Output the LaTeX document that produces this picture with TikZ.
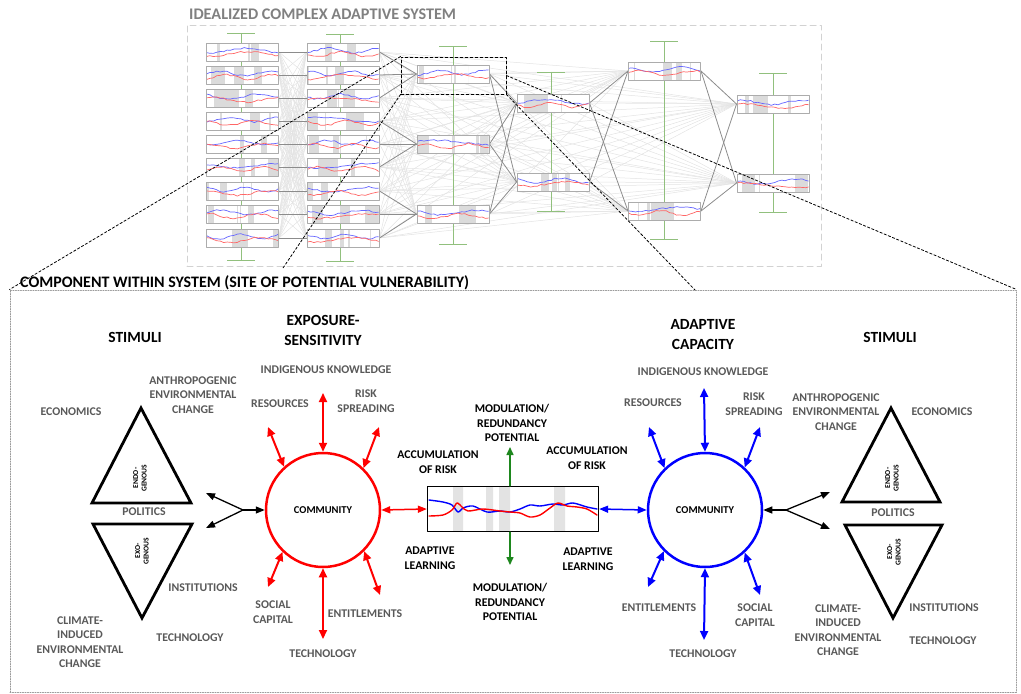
\documentclass[tikz,border=0pt]{standalone}
\usepackage{fontspec}
\setmainfont{Carlito}
\usetikzlibrary{arrows.meta,backgrounds}

\definecolor{lblgray}{RGB}{89,89,89}
\definecolor{titlegray}{RGB}{128,128,128}
\definecolor{whisk}{RGB}{145,192,125}
\definecolor{grn}{RGB}{30,135,30}

\tikzset{
  lbl/.style={text=lblgray,font=\bfseries\fontsize{11.8}{14.5}\selectfont,align=center,inner sep=0pt},
  blk/.style={lbl,text=black},
  head/.style={font=\bfseries\fontsize{15.5}{20}\selectfont,align=center,inner sep=0pt},
  tinyrot/.style={font=\bfseries\fontsize{7.5}{8.5}\selectfont,align=center,inner sep=0pt,rotate=90},
  sysbox/.style={draw=gray!65,line width=1pt,minimum width=72pt,minimum height=18pt,inner sep=0pt},
  comm/.style={circle,line width=2.5pt,minimum size=114pt,inner sep=0pt,font=\bfseries\fontsize{10.5}{12}\selectfont},
  tri/.style={draw,line width=2.8pt,line join=miter},
  spoke/.style={{Triangle[length=9pt,width=8pt]}-{Triangle[length=9pt,width=8pt]},line width=2pt},
  link/.style={{Triangle[length=9pt,width=7pt]}-{Triangle[length=9pt,width=7pt]},line width=1.5pt},
  blkarr/.style={-{Triangle[length=9pt,width=7pt]},line width=1.3pt},
  grnarr/.style={-{Triangle[length=8pt,width=7pt]},line width=1.5pt,grn},
  faint/.style={gray!22,line width=0.5pt},
  darkl/.style={gray!90,line width=0.8pt},
  zoomln/.style={black,line width=0.8pt,dash pattern=on 2.5pt off 2pt}
}

% one small time-series panel of the system
\newcommand{\minitrace}[3]{%
  \fill[white] (#2-36,#3-9) rectangle (#2+36,#3+9);
  \begin{scope}
    \clip (#2-35.5,#3-8.5) rectangle (#2+35.5,#3+8.5);
    \foreach \k in {1,2,3,4}{
      \pgfmathsetmacro\bx{#2-38+70*rnd}
      \pgfmathsetmacro\bw{24*rnd*rnd}
      \fill[gray!28] (\bx,#3-9) rectangle (\bx+\bw,#3+9);
    }
    \pgfmathsetmacro\fa{3+6*rnd}
    \pgfmathsetmacro\pa{360*rnd}
    \pgfmathsetmacro\fb{3+6*rnd}
    \pgfmathsetmacro\pb{360*rnd}
    \draw[blue!60,line width=0.7pt] plot[smooth,domain=-36:36,samples=22]
      ({#2+\x},{#3-1.5+2.3*sin(\x*\fa+\pa)+0.8*rand});
    \draw[red!60,line width=0.7pt] plot[smooth,domain=-36:36,samples=22]
      ({#2+\x},{#3+2+2.3*sin(\x*\fb+\pb)+0.8*rand});
  \end{scope}
  \node[sysbox] (#1) at (#2,#3) {};
}

\begin{document}
\begin{tikzpicture}[line cap=round,line join=round,x=1pt,y=-1pt]
\useasboundingbox (0,0) rectangle (1021,694);
\pgfmathsetseed{11}

% ---- idealized system
\node[anchor=west,text=titlegray,font=\bfseries\fontsize{16.2}{18}\selectfont,inner sep=0pt] (systitle) at (189,14) {IDEALIZED COMPLEX ADAPTIVE SYSTEM};
\node[draw=gray!35,line width=1pt,dash pattern=on 6pt off 4pt,minimum width=634pt,minimum height=241pt] (sysframe) at (504,145.5) {};

\foreach \i/\yy in {1/52,2/75,3/98,4/121,5/144,6/167,7/191,8/214,9/238}{
  \minitrace{b1-\i}{242.5}{\yy}
  \minitrace{b2-\i}{343}{\yy}
}
\foreach \i/\yy in {1/74,2/144,3/214}{\minitrace{b3-\i}{453}{\yy}}
\foreach \i/\yy in {1/103,2/182}{\minitrace{b4-\i}{553}{\yy}}
\foreach \i/\yy in {1/71,2/211}{\minitrace{b5-\i}{664.5}{\yy}}
\foreach \i/\yy in {1/104,2/183}{\minitrace{b6-\i}{773}{\yy}}

\begin{scope}[on background layer]
  % faint links
  \foreach \i in {1,...,9}{
    \foreach \j in {1,...,9}{\draw[faint] (b1-\i.east) -- (b2-\j.west);}
    \foreach \j in {1,2,3}{\draw[faint] (b2-\i.east) -- (b3-\j.west);}
    \foreach \j in {1,2}{
      \draw[faint] (b2-\i.east) -- (b4-\j.west);
      \draw[faint] (b2-\i.east) -- (b5-\j.west);
      \draw[faint] (b2-\i.east) -- (b6-\j.west);
    }
  }
  \foreach \i in {1,2,3}{
    \foreach \j in {1,2}{
      \draw[faint] (b3-\i.east) -- (b5-\j.west);
      \draw[faint] (b3-\i.east) -- (b6-\j.west);
    }
  }
  \foreach \i in {1,2}{
    \foreach \j in {1,2}{\draw[faint] (b4-\i.east) -- (b6-\j.west);}
  }
  % whiskers
  \foreach \wx/\wt/\wb in {241/33/260,340/34/261,453/46/244,551/72/211,664/41/239,773/73/212}{
    \draw[whisk,line width=1pt] (\wx,\wt) -- (\wx,\wb) (\wx-14,\wt) -- (\wx+14,\wt) (\wx-14,\wb) -- (\wx+14,\wb);
  }
  % strong links
  \foreach \i in {1,...,9}{
    \pgfmathtruncatemacro\j{(\i+2)/3}
    \draw[darkl] (b1-\i.east) -- (b2-\i.west);
    \draw[darkl] (b2-\i.east) -- (b3-\j.west);
  }
  \foreach \i in {1,2,3}{
    \foreach \j in {1,2}{\draw[darkl] (b3-\i.east) -- (b4-\j.west);}
  }
  \foreach \i in {1,2}{
    \foreach \j in {1,2}{
      \draw[darkl] (b4-\i.east) -- (b5-\j.west);
      \draw[darkl] (b5-\i.east) -- (b6-\j.west);
    }
  }
\end{scope}

% ---- component frame and zoom lines
\node[anchor=west,font=\bfseries\fontsize{16}{18}\selectfont,inner sep=0pt] (comptitle) at (20,283) {COMPONENT WITHIN SYSTEM (SITE OF POTENTIAL VULNERABILITY)};
\node[draw=gray!80,line width=1pt,dash pattern=on 1pt off 1.5pt,minimum width=1006pt,minimum height=402pt] (compbox) at (513,491) {};
\node[draw,line width=0.9pt,dash pattern=on 3pt off 2pt,minimum width=105pt,minimum height=37pt] (zoomwin) at (453.5,75.5) {};
\coordinate (lend) at (283,268);
\coordinate (rend) at (695,290);
\draw[zoomln] (zoomwin.north west) -- (compbox.north west);
\draw[zoomln] (zoomwin.south west) -- (lend);
\draw[zoomln] (zoomwin.east) -- (compbox.north east);
\draw[zoomln] (zoomwin.south east) -- (rend);

% ---- left stimuli
\node[head] (stimL) at (135,337) {STIMULI};
\draw[tri] (141,408) -- (191,503) -- (92,503) -- cycle;
\draw[tri] (93,524) -- (192,524) -- (142,618) -- cycle;
\node[tinyrot] (endoL) at (140,478) {ENDO-\\GENOUS};
\node[tinyrot] (exoL) at (142,551) {EXO-\\GENOUS};
\node[lbl] (econL) at (71,412) {ECONOMICS};
\node[lbl] (anthL) at (193,395) {ANTHROPOGENIC\\ENVIRONMENTAL\\CHANGE};
\node[lbl] (polL) at (144,512) {POLITICS};
\node[lbl] (instL) at (203,588) {INSTITUTIONS};
\node[lbl] (techL) at (190,638) {TECHNOLOGY};
\node[lbl] (climL) at (80,642) {CLIMATE-\\INDUCED\\ENVIRONMENTAL\\CHANGE};

% ---- exposure-sensitivity
\node[comm,draw=red] (commL) at (323,510) {COMMUNITY};
\node[head] (expo) at (323,330) {EXPOSURE-\\SENSITIVITY};
\node[lbl] (indL) at (326,370) {INDIGENOUS KNOWLEDGE};
\node[lbl] (resL) at (280,404) {RESOURCES};
\node[lbl] (riskL) at (366,401) {RISK\\SPREADING};
\node[lbl] (socL) at (273,612) {SOCIAL\\CAPITAL};
\node[lbl] (entL) at (365,614) {ENTITLEMENTS};
\node[lbl] (techcL) at (323,654) {TECHNOLOGY};
\coordinate (sL1) at (323,393);
\coordinate (sL2) at (268,427);
\coordinate (sL3) at (379,427);
\coordinate (sL4) at (323,639);
\coordinate (sL5) at (268,587);
\coordinate (sL6) at (380,595);
\draw[spoke,red] (commL.90) -- (sL1);
\draw[spoke,red] (commL.132) -- (sL2);
\draw[spoke,red] (commL.46) -- (sL3);
\draw[spoke,red] (commL.270) -- (sL4);
\draw[spoke,red] (commL.226) -- (sL5);
\draw[spoke,red] (commL.315) -- (sL6);

\coordinate (jL) at (243,510);
\coordinate (aL1) at (206,493);
\coordinate (aL2) at (206,528);
\draw[blkarr] (jL) -- (commL.west);
\draw[blkarr] (jL) -- (aL1);
\draw[blkarr] (jL) -- (aL2);

% ---- component in the middle
\node[draw,line width=1.3pt,minimum width=171pt,minimum height=45pt,inner sep=0pt] (sysmid) at (513,509) {};
\fill[gray!22] (453,487.2) rectangle (463,530.8) (486,487.2) rectangle (493,530.8)
  (499,487.2) rectangle (510,530.8) (554,487.2) rectangle (565,530.8);
\draw[blue,line width=1.4pt] plot[smooth] coordinates {(429,500) (443,502) (452,505) (458,512) (463,508) (473,506) (487,512) (500,511) (510,512) (520,509) (530,505) (540,506) (553,504) (563,505) (573,503) (587,507) (597,509)};
\draw[red,line width=1.4pt] plot[smooth] coordinates {(429,516) (443,515) (452,510) (457,503) (462,507) (468,511) (483,509) (500,511) (510,512) (520,513) (530,517) (540,515) (550,508) (558,503) (567,506) (577,507) (587,509) (597,515)};
\draw[link,red] (commL.east) -- (sysmid.west);
\coordinate (gup) at (510,447);
\coordinate (gdn) at (510,565);
\draw[grnarr] (sysmid.north -| gup) -- (gup);
\draw[grnarr] (sysmid.south -| gdn) -- (gdn);
\node[blk] (modU) at (512,423) {MODULATION/\\REDUNDANCY\\POTENTIAL};
\node[blk] (modD) at (510,602) {MODULATION/\\REDUNDANCY\\POTENTIAL};
\node[blk] (accL) at (438,462) {ACCUMULATION\\OF RISK};
\node[blk] (accR) at (587,458) {ACCUMULATION\\OF RISK};
\node[blk] (learnL) at (430,558) {ADAPTIVE\\LEARNING};
\node[blk] (learnR) at (588,559) {ADAPTIVE\\LEARNING};

% ---- adaptive capacity
\node[comm,draw=blue] (commR) at (705,510) {COMMUNITY};
\draw[link,blue] (sysmid.east) -- (commR.west);
\node[head] (adapt) at (703,335) {ADAPTIVE\\CAPACITY};
\node[lbl] (indR) at (703,372) {INDIGENOUS KNOWLEDGE};
\node[lbl] (resR) at (653,403) {RESOURCES};
\node[lbl] (riskR) at (754,404) {RISK\\SPREADING};
\node[lbl] (entR) at (659,608) {ENTITLEMENTS};
\node[lbl] (socR) at (755,615) {SOCIAL\\CAPITAL};
\node[lbl] (techcR) at (703,654) {TECHNOLOGY};
\coordinate (sR1) at (704,388);
\coordinate (sR2) at (649,427);
\coordinate (sR3) at (760,427);
\coordinate (sR4) at (704,640);
\coordinate (sR5) at (648,587);
\coordinate (sR6) at (760,595);
\draw[spoke,blue] (commR.90) -- (sR1);
\draw[spoke,blue] (commR.134) -- (sR2);
\draw[spoke,blue] (commR.47) -- (sR3);
\draw[spoke,blue] (commR.270) -- (sR4);
\draw[spoke,blue] (commR.225) -- (sR5);
\draw[spoke,blue] (commR.313) -- (sR6);

\coordinate (jR) at (786,510);
\coordinate (aR1) at (830,492);
\coordinate (aR2) at (830,529);
\draw[blkarr] (jR) -- (commR.east);
\draw[blkarr] (jR) -- (aR1);
\draw[blkarr] (jR) -- (aR2);

% ---- right stimuli
\node[head] (stimR) at (890,337) {STIMULI};
\draw[tri] (891,408) -- (940,502) -- (842,502) -- cycle;
\draw[tri] (845,525) -- (942,525) -- (893,618) -- cycle;
\node[tinyrot] (endoR) at (892,478) {ENDO-\\GENOUS};
\node[tinyrot] (exoR) at (894,552) {EXO-\\GENOUS};
\node[lbl] (anthR) at (836,412) {ANTHROPOGENIC\\ENVIRONMENTAL\\CHANGE};
\node[lbl] (econR) at (942,412) {ECONOMICS};
\node[lbl] (polR) at (893,513) {POLITICS};
\node[lbl] (climR) at (838,630) {CLIMATE-\\INDUCED\\ENVIRONMENTAL\\CHANGE};
\node[lbl] (instR) at (944,608) {INSTITUTIONS};
\node[lbl] (techR) at (943,641) {TECHNOLOGY};
\end{tikzpicture}
\end{document}
